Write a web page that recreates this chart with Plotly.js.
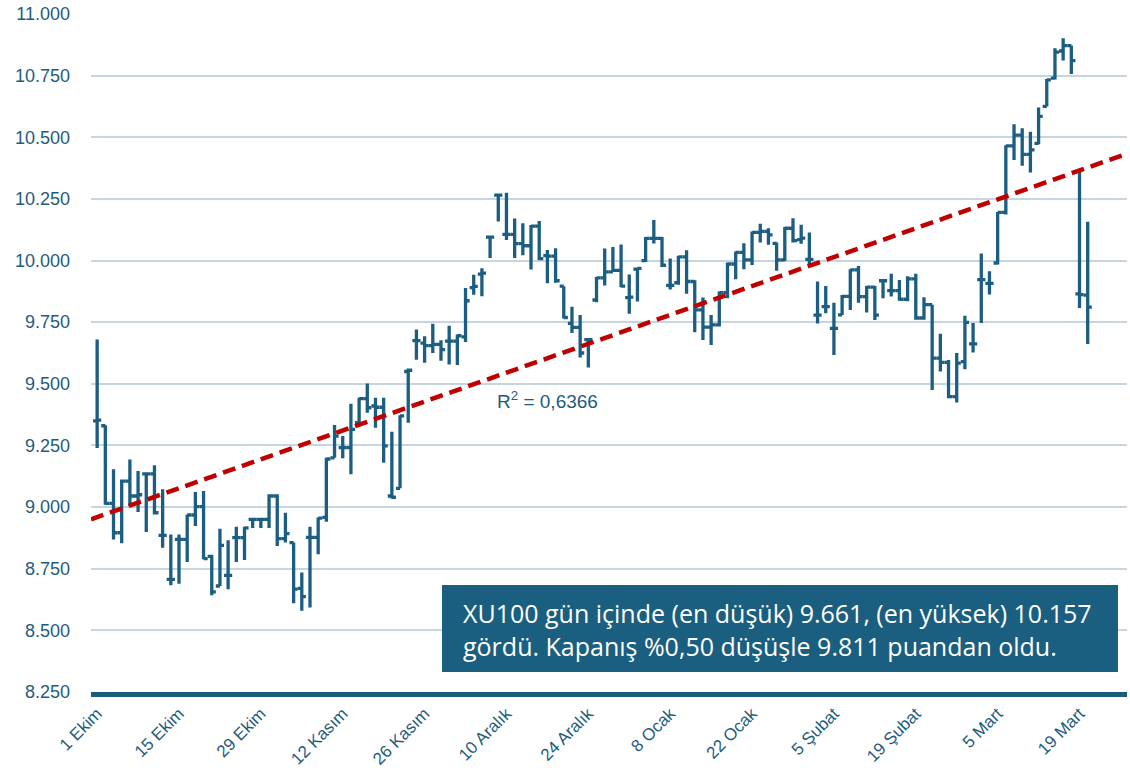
<!DOCTYPE html>
<html><head><meta charset="utf-8">
<script src="https://cdn.plot.ly/plotly-3.0.1.min.js"></script>
<style>html,body{margin:0;padding:0;background:#fff}#chart{width:1130px;height:775px}</style>
</head><body><div id="chart"></div>
<script>
// x tick labels (every 10th trading day)
const tickLabels = ["1 Ekim","15 Ekim","29 Ekim","12 Kasım","26 Kasım","10 Aralık","24 Aralık","8 Ocak","22 Ocak","5 Şubat","19 Şubat","5 Mart","19 Mart"];

const openV = [9350,9330,9015,8896,9105,9045,9135,9135,8885,8707,
8869,8869,8968,9002,8800,8680,8723,8876,8876,8950,
8950,8950,9045,8872,8856,8670,8877,8877,8958,9200,
9241,9241,9342,9440,9410,9405,9045,9076,9550,9675,
9665,9655,9660,9673,9673,9690,9890,9945,10095,10265,
10106,10106,10069,10060,10140,10020,10018,9896,9745,9729,
9679,9840,9930,9954,9960,9850,9965,10000,10090,10090,
9899,9910,10015,9915,9800,9730,9739,9870,9986,10033,
10003,10114,10118,10070,10003,10131,10085,10005,9779,9813,
9725,9780,9855,9962,9854,9892,9918,9878,9878,9843,
9926,9767,9821,9604,9587,9448,9590,9662,9923,9907,
9990,10195,10465,10509,10431,10475,10625,10740,10850,10872,
9865,9860];

const highV = [9680,9332,9153,9112,9193,9146,9139,9170,9072,8889,
8889,8970,9061,9065,8807,8912,8866,8920,8920,8953,
8953,9052,9052,8977,8856,8735,8920,8958,9200,9333,
9288,9419,9443,9501,9443,9443,9306,9373,9562,9720,
9693,9744,9677,9736,9700,9889,9942,9969,10098,10269,
10275,10171,10151,10144,10160,10043,10050,9896,9813,9779,
9684,9933,10049,10055,10065,9943,9970,10096,10164,10096,
10008,10019,10042,9920,9850,9779,9874,9992,10037,10070,
10118,10149,10131,10073,10136,10172,10145,10114,9915,9897,
9829,9860,9965,9978,9897,9897,9921,9946,9921,9936,
9946,9851,9821,9703,9597,9625,9776,9747,10029,9957,
10197,10468,10553,10537,10522,10621,10736,10861,10902,10872,
10370,10157];

const lowV = [9240,9010,8869,8853,9004,8980,8899,8970,8835,8683,
8689,8777,8923,8788,8642,8680,8667,8777,8785,8915,
8915,8915,8842,8856,8610,8580,8593,8809,8941,9200,
9198,9133,9342,9383,9322,9180,9035,9076,9342,9598,
9585,9625,9594,9578,9576,9670,9861,9855,10010,10158,
10083,10010,10021,9964,10001,9908,9910,9765,9706,9607,
9566,9831,9899,9954,9892,9784,9834,9994,10069,9974,
9883,9902,9865,9709,9678,9657,9732,9847,9924,9965,
9982,10073,10064,9959,9998,10073,10068,9986,9745,9786,
9617,9779,9799,9829,9789,9759,9847,9854,9837,9835,
9760,9760,9475,9550,9441,9424,9559,9627,9747,9862,
9984,10187,10408,10384,10357,10472,10625,10734,10811,10757,
9808,9661];

const closeV = [9353,9015,8896,9105,9045,9050,9135,8977,8885,8707,
8869,8968,9002,8791,8656,8845,8723,8876,8916,8950,
8950,9045,8872,8892,8667,8637,8877,8955,9195,9288,
9241,9315,9440,9403,9405,9248,9040,9370,9555,9675,
9655,9660,9639,9673,9695,9837,9895,9949,10095,10265,
10106,10069,10060,10140,10008,10018,9918,9769,9729,9625,
9679,9930,9954,9960,9896,9852,9968,10090,10090,9981,
9899,10015,9915,9800,9730,9739,9870,9986,10033,10003,
10114,10118,10104,10003,10131,10081,10091,10005,9779,9813,
9725,9855,9962,9854,9892,9779,9918,9878,9843,9926,
9767,9821,9604,9587,9448,9584,9749,9662,9923,9907,
10195,10465,10509,10431,10449,10585,10733,10845,10872,10811,
9862,9811];

const r2Text = "R<sup>2</sup> = 0,6366";
const noteLine1 = "XU100 gün içinde (en düşük) 9.661, (en yüksek) 10.157";
const noteLine2 = "gördü. Kapanış %0,50 düşüşle 9.811 puandan oldu.";

const idx = closeV.map((_, i) => i);

// linear trendline (least squares on closes)
const n = closeV.length;
const mx = idx.reduce((a, b) => a + b, 0) / n;
const my = closeV.reduce((a, b) => a + b, 0) / n;
let sxy = 0, sxx = 0;
for (let i = 0; i < n; i++) { sxy += (idx[i] - mx) * (closeV[i] - my); sxx += (idx[i] - mx) ** 2; }
const slope = sxy / sxx, icpt = my - slope * mx;
const xr = [-0.75, 125.8];
const trendX = [xr[0], xr[1]];
const trendY = trendX.map(x => icpt + slope * x);

const blue = '#1B5E82';
const textBlue = '#1E5C7E';
const font = 'Liberation Sans, Arial, sans-serif';
const noteFont = 'Open Sans, Noto Sans, sans-serif';

const data = [
  {
    type: 'ohlc', x: idx, open: openV, high: highV, low: lowV, close: closeV,
    increasing: {line: {color: blue, width: 3.3}},
    decreasing: {line: {color: blue, width: 3.3}},
    tickwidth: 0.5, hoverinfo: 'skip', showlegend: false
  },
  {
    type: 'scatter', mode: 'lines', x: trendX, y: trendY,
    line: {color: '#C00000', width: 4.5, dash: '13px,7px'},
    hoverinfo: 'skip', showlegend: false
  }
];

const layout = {
  width: 1130, height: 775,
  margin: {l: 91, r: 3, t: 14, b: 83},
  paper_bgcolor: '#fff', plot_bgcolor: '#fff',
  separators: ',.',
  showlegend: false,
  font: {family: font, color: textBlue},
  xaxis: {
    range: xr, rangeslider: {visible: false},
    tickvals: tickLabels.map((_, i) => i * 10), ticktext: tickLabels,
    tickangle: -45, tickfont: {size: 17, color: textBlue, family: font},
    showgrid: false, zeroline: false,
    showline: true, linecolor: '#1A5B7E', linewidth: 5,
    ticks: '', ticklabelstandoff: 0, fixedrange: true
  },
  yaxis: {
    range: [8250, 11000], dtick: 250, tick0: 8250,
    tickformat: ',.0f',
    tickfont: {size: 18, color: textBlue, family: font},
    showgrid: true, gridcolor: '#C5D6E0', gridwidth: 2,
    zeroline: false, showline: false, ticks: '',
    ticklabelstandoff: 20, fixedrange: true
  },
  shapes: [
    {type: 'rect', xref: 'paper', yref: 'paper', x0: 0.3388, x1: 0.9913, y0: 0.0295, y1: 0.1578,
     fillcolor: '#1A5E80', line: {width: 0}, layer: 'above'}
  ],
  annotations: [
    {xref: 'paper', yref: 'paper', x: 0.39, y: 0.4307, xanchor: 'left', yanchor: 'middle',
     text: r2Text, showarrow: false, font: {size: 19, color: textBlue, family: font}},
    {xref: 'paper', yref: 'paper', x: 0.357, y: 0.1165, xanchor: 'left', yanchor: 'middle',
     text: noteLine1, showarrow: false, font: {size: 25, color: '#ffffff', family: noteFont}},
    {xref: 'paper', yref: 'paper', x: 0.357, y: 0.0685, xanchor: 'left', yanchor: 'middle',
     text: noteLine2, showarrow: false, font: {size: 25, color: '#ffffff', family: noteFont}}
  ]
};

Plotly.newPlot('chart', data, layout, {displayModeBar: false, staticPlot: true});
</script>
</body></html>
